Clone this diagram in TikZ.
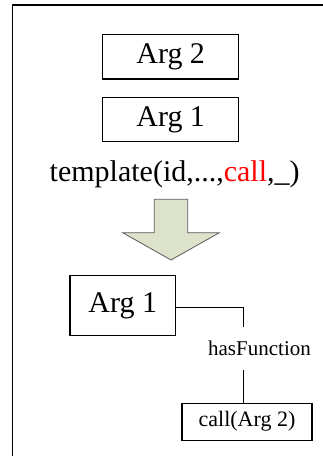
\documentclass[tikz,border=0pt]{standalone}
\usepackage{fontspec}
\setmainfont{Liberation Serif}
\definecolor{arrowfill}{HTML}{DDE2CB}
\definecolor{arrowline}{HTML}{5A5A5A}
\definecolor{callred}{HTML}{FF0000}
\tikzset{
  argbox/.style={draw, line width=1.3pt, inner sep=0pt, font=\fontsize{30}{31}\selectfont},
  smallbox/.style={draw, line width=1.1pt, inner sep=0pt, font=\fontsize{22}{23}\selectfont},
  link/.style={line width=1.1pt},
  frameline/.style={line width=1.6pt}
}
\begin{document}
\begin{tikzpicture}[x=1pt,y=-1pt]
  \useasboundingbox (0,0) rectangle (323,456);
  % open frame: top and left edges only
  \draw[frameline] (12.3,456) -- (12.3,5) -- (323,5);

  % stacked argument boxes
  \node[argbox, minimum width=136pt, minimum height=44.7pt] (arg2) at (170.7,56.7) {Arg 2};
  \node[argbox, minimum width=136pt, minimum height=44.4pt] (arg1) at (170.7,119.5) {Arg 1};

  % template line
  \node[font=\fontsize{30}{31}\selectfont, inner sep=0pt, anchor=base] (tpl) at (174.7,181.7)
    {template(id,...,\textcolor{callred}{call},\_)};

  % block arrow
  \draw[arrowline, fill=arrowfill, line width=0.8pt, line join=miter]
    (154.3,199.3) -- (187.7,199.3) -- (187.7,232.7) -- (219.3,232.7)
    -- (171,260) -- (122.7,232.7) -- (154.3,232.7) -- cycle;

  % resulting structure
  \node[argbox, minimum width=105.7pt, minimum height=59.6pt] (res) at (122.8,305.5) {Arg 1};
  \coordinate (bend) at (243.3,307.3);
  \node[font=\fontsize{21}{22}\selectfont, inner sep=0pt, anchor=base] (rel) at (259.5,355) {hasFunction};
  \coordinate (relTop) at (243.3,326.7);
  \coordinate (relBot) at (243.3,370);
  \node[smallbox, minimum width=130pt, minimum height=36.7pt] (call) at (247,421.7) {call(Arg 2)};

  \draw[link] (res.east |- bend) -- (bend) -- (relTop);
  \draw[link] (relBot) -- (relBot |- call.north);
\end{tikzpicture}
\end{document}
